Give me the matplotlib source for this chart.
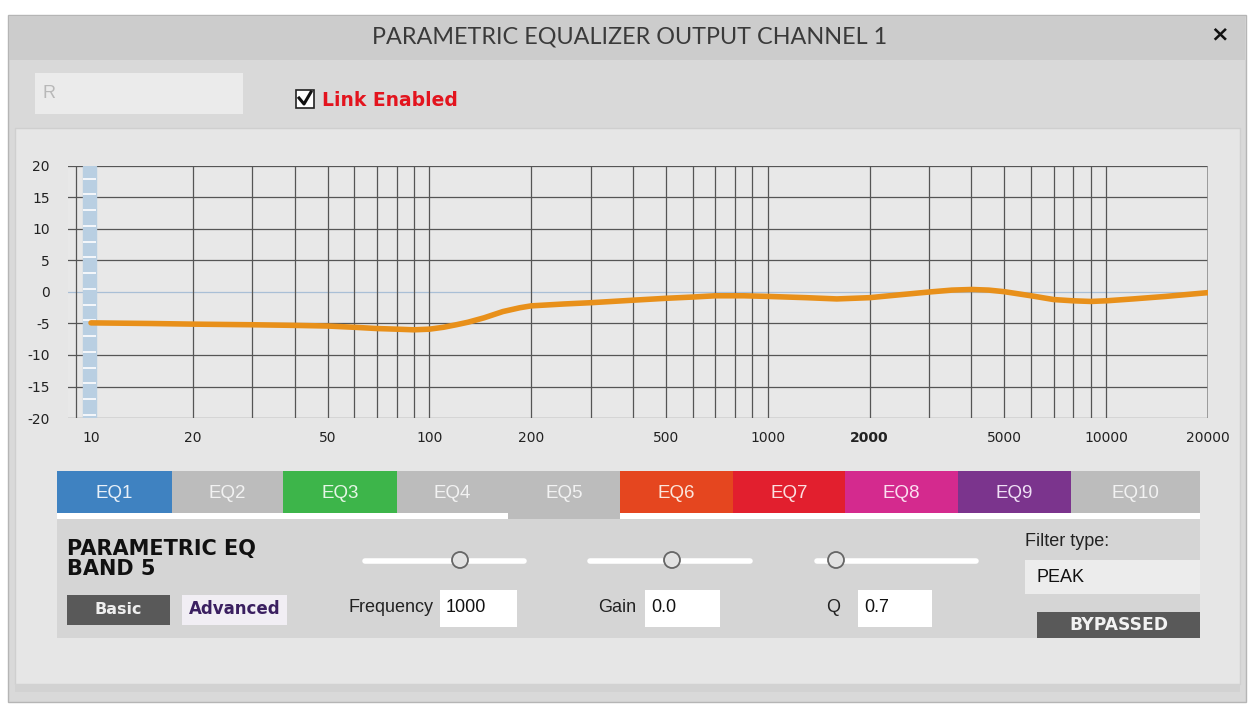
import matplotlib.pyplot as plt
from matplotlib.patches import Rectangle, Circle
from matplotlib.ticker import FixedLocator, NullFormatter, LogLocator

plt.rcParams["axes.unicode_minus"] = False

# --- data ---------------------------------------------------------------
freqs = [10, 15, 20, 30, 40, 50, 60, 70, 80, 90, 100, 110, 120, 130, 145,
         165, 185, 200, 250, 300, 400, 500, 600, 700, 850, 1000, 1300, 1600,
         2000, 2500, 3000, 3500, 4000, 4500, 5000, 6000, 7000, 8000, 9000,
         10000, 12000, 15000, 20000]
gains = [-4.9, -5.0, -5.1, -5.2, -5.3, -5.4, -5.6, -5.8, -5.9, -6.0, -5.9,
         -5.6, -5.2, -4.8, -4.1, -3.1, -2.5, -2.2, -1.9, -1.7, -1.3, -1.0,
         -0.8, -0.6, -0.6, -0.7, -0.9, -1.1, -0.9, -0.4, 0.0, 0.3, 0.4, 0.3,
         0.05, -0.6, -1.2, -1.4, -1.5, -1.4, -1.1, -0.7, -0.1]

x_ticks = [10, 20, 50, 100, 200, 500, 1000, 2000, 5000, 10000, 20000]
y_ticks = [-20, -15, -10, -5, 0, 5, 10, 15, 20]

tab_names = ["EQ1", "EQ2", "EQ3", "EQ4", "EQ5", "EQ6", "EQ7", "EQ8", "EQ9", "EQ10"]
tab_colors = ["#3f82c1", "#bcbcbc", "#3db54a", "#bcbcbc", "#bcbcbc",
              "#e5461f", "#e21f2e", "#d42a8e", "#7b348d", "#bcbcbc"]
tab_text = ["#e8f0f8", "#f2f2f2", "#e6f6e6", "#f2f2f2", "#f2f2f2",
            "#fbe6dc", "#fbe0e0", "#fbe0f0", "#efe0f5", "#f2f2f2"]

title = "PARAMETRIC EQUALIZER OUTPUT CHANNEL 1"
band_title = "PARAMETRIC EQ\nBAND 5"
freq_value, gain_value, q_value = "1000", "0.0", "0.7"
filter_type = "PEAK"

W, H = 1252, 705
NARROW = ["Liberation Sans Narrow", "Liberation Sans", "DejaVu Sans"]

fig = plt.figure(figsize=(W / 100, H / 100), dpi=100)
fig.patch.set_facecolor("white")
bg = fig.add_axes([0, 0, 1, 1])
bg.set_xlim(0, W)
bg.set_ylim(H, 0)
bg.axis("off")


def rect(x0, y0, x1, y1, color, **kw):
    bg.add_patch(Rectangle((x0, y0), x1 - x0, y1 - y0, facecolor=color, **kw))


# window frame
rect(8, 15, 1246, 702, "#d9d9d9", edgecolor="#b5b5b5", linewidth=1)
rect(9, 16, 1245, 60, "#cccccc")
bg.text(630, 37, title, ha="center", va="center", fontsize=16.8,
        family=["Lato", "DejaVu Sans"], color="#3a3a3a")
bg.text(1220, 34, "\u00d7", ha="center", va="center", fontsize=16,
        fontweight="bold", color="#111111")

# channel name box + link checkbox
rect(35, 73, 243, 114, "#ebebeb")
bg.text(42, 94, "R", ha="left", va="center", fontsize=13, color="#b8b8b8",
        family=NARROW)
rect(296, 90, 314, 108, "white", edgecolor="#222222", linewidth=1.2)
bg.plot([299, 304, 311], [98, 104, 92], color="#111111", linewidth=2.2)
bg.text(322, 100, "Link Enabled", ha="left", va="center", fontsize=13.5,
        fontweight="bold", color="#e3141e")

# inner panel
rect(15, 128, 1240, 684, "#e6e6e6", edgecolor="#cfcfcf", linewidth=1)
rect(15, 684, 1240, 692, "#d2d2d2")

# --- chart ---------------------------------------------------------------
ax = fig.add_axes([68 / W, 1 - 418 / H, (1208 - 68) / W, (418 - 166) / H])
ax.set_facecolor("#e8e8e8")
ax.set_xscale("log")
ax.set_xlim(8.55, 20000)
ax.set_ylim(-20, 20)
for s in ax.spines.values():
    s.set_visible(False)

ax.xaxis.set_major_locator(FixedLocator(x_ticks))
ax.xaxis.set_minor_locator(LogLocator(base=10, subs=range(2, 10)))
ax.xaxis.set_minor_formatter(NullFormatter())
ax.set_xticklabels([str(t) for t in x_ticks])
ax.set_yticks(y_ticks)
ax.tick_params(axis="both", which="both", length=0, labelsize=10,
               labelcolor="#222222")
ax.tick_params(axis="y", pad=13)
ax.tick_params(axis="x", pad=9)
for lab in ax.get_xticklabels():
    if lab.get_text() == "2000":
        lab.set_fontweight("bold")

ax.grid(True, which="both", axis="x", color="#555555", linewidth=0.9)
for y in y_ticks:
    ax.axhline(y, color="#a9bfd6" if y == 0 else "#555555", linewidth=0.9,
               zorder=1)
ax.axvline(20000, color="#9a9a9a", linewidth=1.2, zorder=1)

# level meter strip at the left edge
ax.axvspan(9.45, 10.35, color="#b9cfe2", zorder=2)
ax.hlines([v / 2 for v in range(-39, 40, 5)], 9.45, 10.35, color="white",
          linewidth=1.2, zorder=2)

ax.plot(freqs, gains, color="#e8901a", linewidth=4, solid_capstyle="round",
        zorder=3)

# --- band tabs -------------------------------------------------------------
tab_edges = [57, 172, 283, 397, 508, 620, 733, 845, 958, 1071, 1200]
for i, name in enumerate(tab_names):
    x0, x1 = tab_edges[i], tab_edges[i + 1]
    y1 = 520 if i == 4 else 513
    rect(x0, 471, x1, y1, tab_colors[i])
    bg.text((x0 + x1) / 2, 493, name, ha="center", va="center", fontsize=13.5,
            family=NARROW, color=tab_text[i])
rect(57, 513, 508, 519, "white")
rect(620, 513, 1200, 519, "white")

# --- band controls ---------------------------------------------------------
rect(57, 519, 1200, 638, "#d5d5d5")
bg.text(67, 559, band_title, ha="left", va="center", fontsize=15,
        fontweight="bold", color="#111111", linespacing=0.95)

rect(67, 595, 170, 625, "#595959")
bg.text(118, 609, "Basic", ha="center", va="center", fontsize=11.5,
        fontweight="bold", color="#eeeeee")
rect(182, 595, 287, 625, "#f1eef4")
bg.text(235, 609, "Advanced", ha="center", va="center", fontsize=12,
        fontweight="bold", color="#3a1f60")

for sx0, sx1, knob in [(365, 524, 460), (590, 750, 672), (817, 976, 836)]:
    bg.plot([sx0, sx1], [561, 561], color="white", linewidth=4,
            solid_capstyle="round")
    bg.add_patch(Circle((knob, 560), 8, facecolor="#e2e2e2",
                        edgecolor="#666666", linewidth=1.3, zorder=5))

for label, lx, bx0, bx1, val in [("Frequency", 433, 440, 517, freq_value),
                                 ("Gain", 636, 645, 720, gain_value),
                                 ("Q", 840, 858, 932, q_value)]:
    bg.text(lx, 608, label, ha="right", va="center", fontsize=13,
            family=NARROW, color="#222222")
    rect(bx0, 590, bx1, 627, "white")
    bg.text(bx0 + 6, 608, val, ha="left", va="center", fontsize=13,
            family=NARROW, color="#111111")

bg.text(1025, 541, "Filter type:", ha="left", va="center", fontsize=13,
        family=NARROW, color="#222222")
rect(1025, 560, 1200, 594, "#ececec")
bg.text(1037, 578, filter_type, ha="left", va="center", fontsize=13,
        family=NARROW, color="#111111")
rect(1037, 612, 1200, 638, "#595959")
bg.text(1119, 625, "BYPASSED", ha="center", va="center", fontsize=12.3,
        fontweight="bold", color="#f2f2f2")

fig.savefig("out.png", dpi=100)
